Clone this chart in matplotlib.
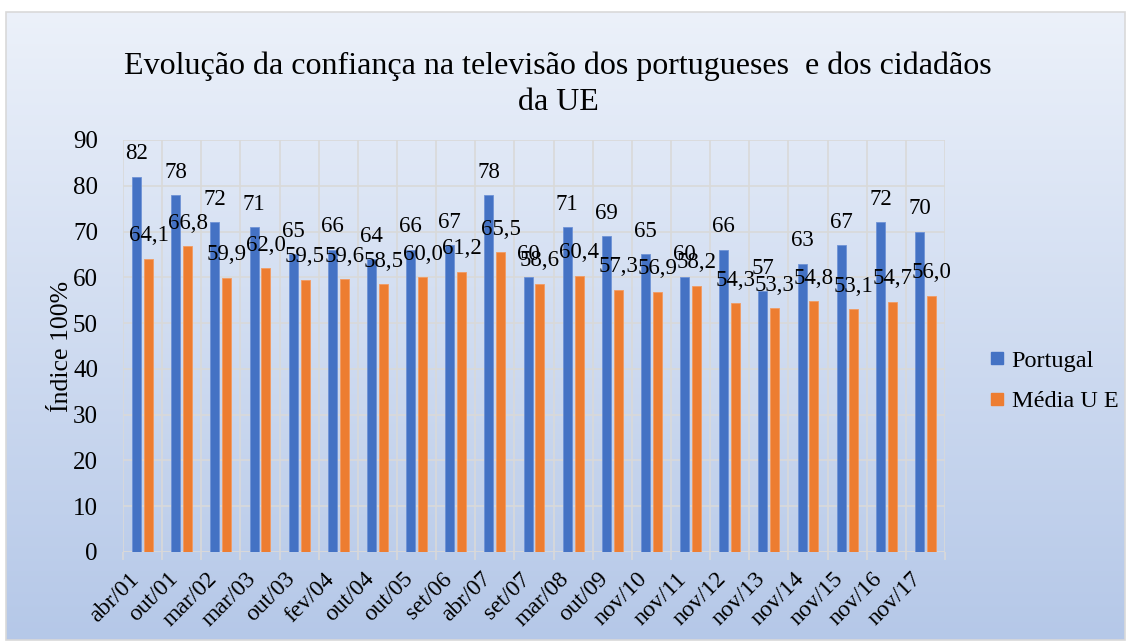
"""
Confiança na televisão: Portugal vs média UE
"""
import matplotlib as mpl
import matplotlib.pyplot as plt
from matplotlib.patches import Rectangle
from matplotlib.lines import Line2D
from matplotlib.transforms import ScaledTranslation
import numpy as np

mpl.rcParams['font.family'] = ['Liberation Serif', 'DejaVu Serif']

periodos = ['abr/01', 'out/01', 'mar/02', 'mar/03', 'out/03', 'fev/04', 'out/04',
            'out/05', 'set/06', 'abr/07', 'set/07', 'mar/08', 'out/09', 'nov/10',
            'nov/11', 'nov/12', 'nov/13', 'nov/14', 'nov/15', 'nov/16', 'nov/17']
portugal = [82, 78, 72, 71, 65, 66, 64, 66, 67, 78, 60, 71, 69, 65, 60, 66, 57, 63, 67, 72, 70]
media_ue = [64.1, 66.8, 59.9, 62.0, 59.5, 59.6, 58.5, 60.0, 61.2, 65.5, 58.6,
            60.4, 57.3, 56.9, 58.2, 54.3, 53.3, 54.8, 53.1, 54.7, 56.0]
y_ticks = [0, 10, 20, 30, 40, 50, 60, 70, 80, 90]

azul = '#4472C4'
laranja = '#ED7D31'

fig = plt.figure(figsize=(11.31, 6.44), dpi=100)

# background gradient + border
bg = fig.add_axes([0, 0, 1, 1], zorder=0)
grad = np.linspace(0, 1, 256).reshape(-1, 1)
top_c = np.array([0.925, 0.945, 0.980])
bot_c = np.array([0.710, 0.784, 0.910])
img = top_c + (bot_c - top_c) * grad[:, :, None]
x0, y0 = 6 / 1131, 1 - 640 / 644
x1, y1 = 1125 / 1131, 1 - 12 / 644
bg.imshow(img, extent=[x0, x1, y0, y1], aspect='auto', origin='upper')
bg.add_patch(Rectangle((x0, y0), x1 - x0, y1 - y0, fill=False, ec='#D9D9D9', lw=1.2))
bg.set_xlim(0, 1)
bg.set_ylim(0, 1)
bg.axis('off')

ax = fig.add_axes([123 / 1131, 1 - 552 / 644, (945 - 123) / 1131, (552 - 140) / 644], zorder=1)
ax.set_facecolor('none')

x = np.arange(len(periodos))
w = 0.23
ax.bar(x - 0.15, portugal, w, color=azul, edgecolor='#6F93D6', lw=0.6, label='Portugal', zorder=3)
ax.bar(x + 0.15, media_ue, w, color=laranja, edgecolor='#F29B62', lw=0.6, label='Média U E', zorder=3)

for xi, v in zip(x, portugal):
    ax.annotate(str(v), (xi - 0.15, v), xytext=(0, 16.5), textcoords='offset points',
                ha='center', va='center', fontsize=16.5, zorder=4)
for xi, v in zip(x, media_ue):
    ax.annotate(f"{v:.1f}".replace('.', ','), (xi + 0.15, v), xytext=(0, 16.5),
                textcoords='offset points', ha='center', va='center', fontsize=16.5, zorder=4)

ax.set_xlim(-0.5, len(periodos) - 0.5)
ax.set_ylim(0, 90)
ax.set_yticks(y_ticks)
ax.tick_params(axis='y', length=0, labelsize=18, pad=18)
ax.set_xticks(x)
ax.set_xticklabels(periodos, rotation=45, ha='right', va='center', rotation_mode='anchor', fontsize=17)
ax.tick_params(axis='x', which='major', length=0, pad=15)
shift = ScaledTranslation(-7 / 100, -3 / 100, fig.dpi_scale_trans)
for lab in ax.get_xticklabels():
    lab.set_transform(lab.get_transform() + shift)
ax.set_xticks(np.arange(-0.5, len(periodos), 1), minor=True)
ax.tick_params(axis='x', which='minor', length=6, color='#D9D9D9', width=1.2)

ax.grid(axis='y', color='#D9D9D9', lw=1.2, zorder=0)
ax.grid(axis='x', which='minor', color='#D9D9D9', lw=1.2, zorder=0)
for s in ax.spines.values():
    s.set_visible(False)
ax.axhline(0, color='#D9D9D9', lw=1.2, zorder=2)

ax.set_ylabel('Índice 100%', fontsize=18.5, labelpad=0)

fig.text(558 / 1131, 1 - 84 / 644,
         'Evolução da confiança na televisão dos portugueses  e dos cidadãos\nda UE',
         ha='center', va='center', fontsize=23, linespacing=1.3, zorder=5)

handles = [Line2D([], [], marker='s', ls='none', color=azul, markersize=8),
           Line2D([], [], marker='s', ls='none', color=laranja, markersize=8)]
fig.legend(handles, ['Portugal', 'Média U E'], loc='center left',
           bbox_to_anchor=(968 / 1131, 1 - 381 / 644), frameon=False, fontsize=17.5,
           handlelength=0.6, handletextpad=0.3, labelspacing=0.75)

fig.savefig('out.png', dpi=100)
plt.close('all')
